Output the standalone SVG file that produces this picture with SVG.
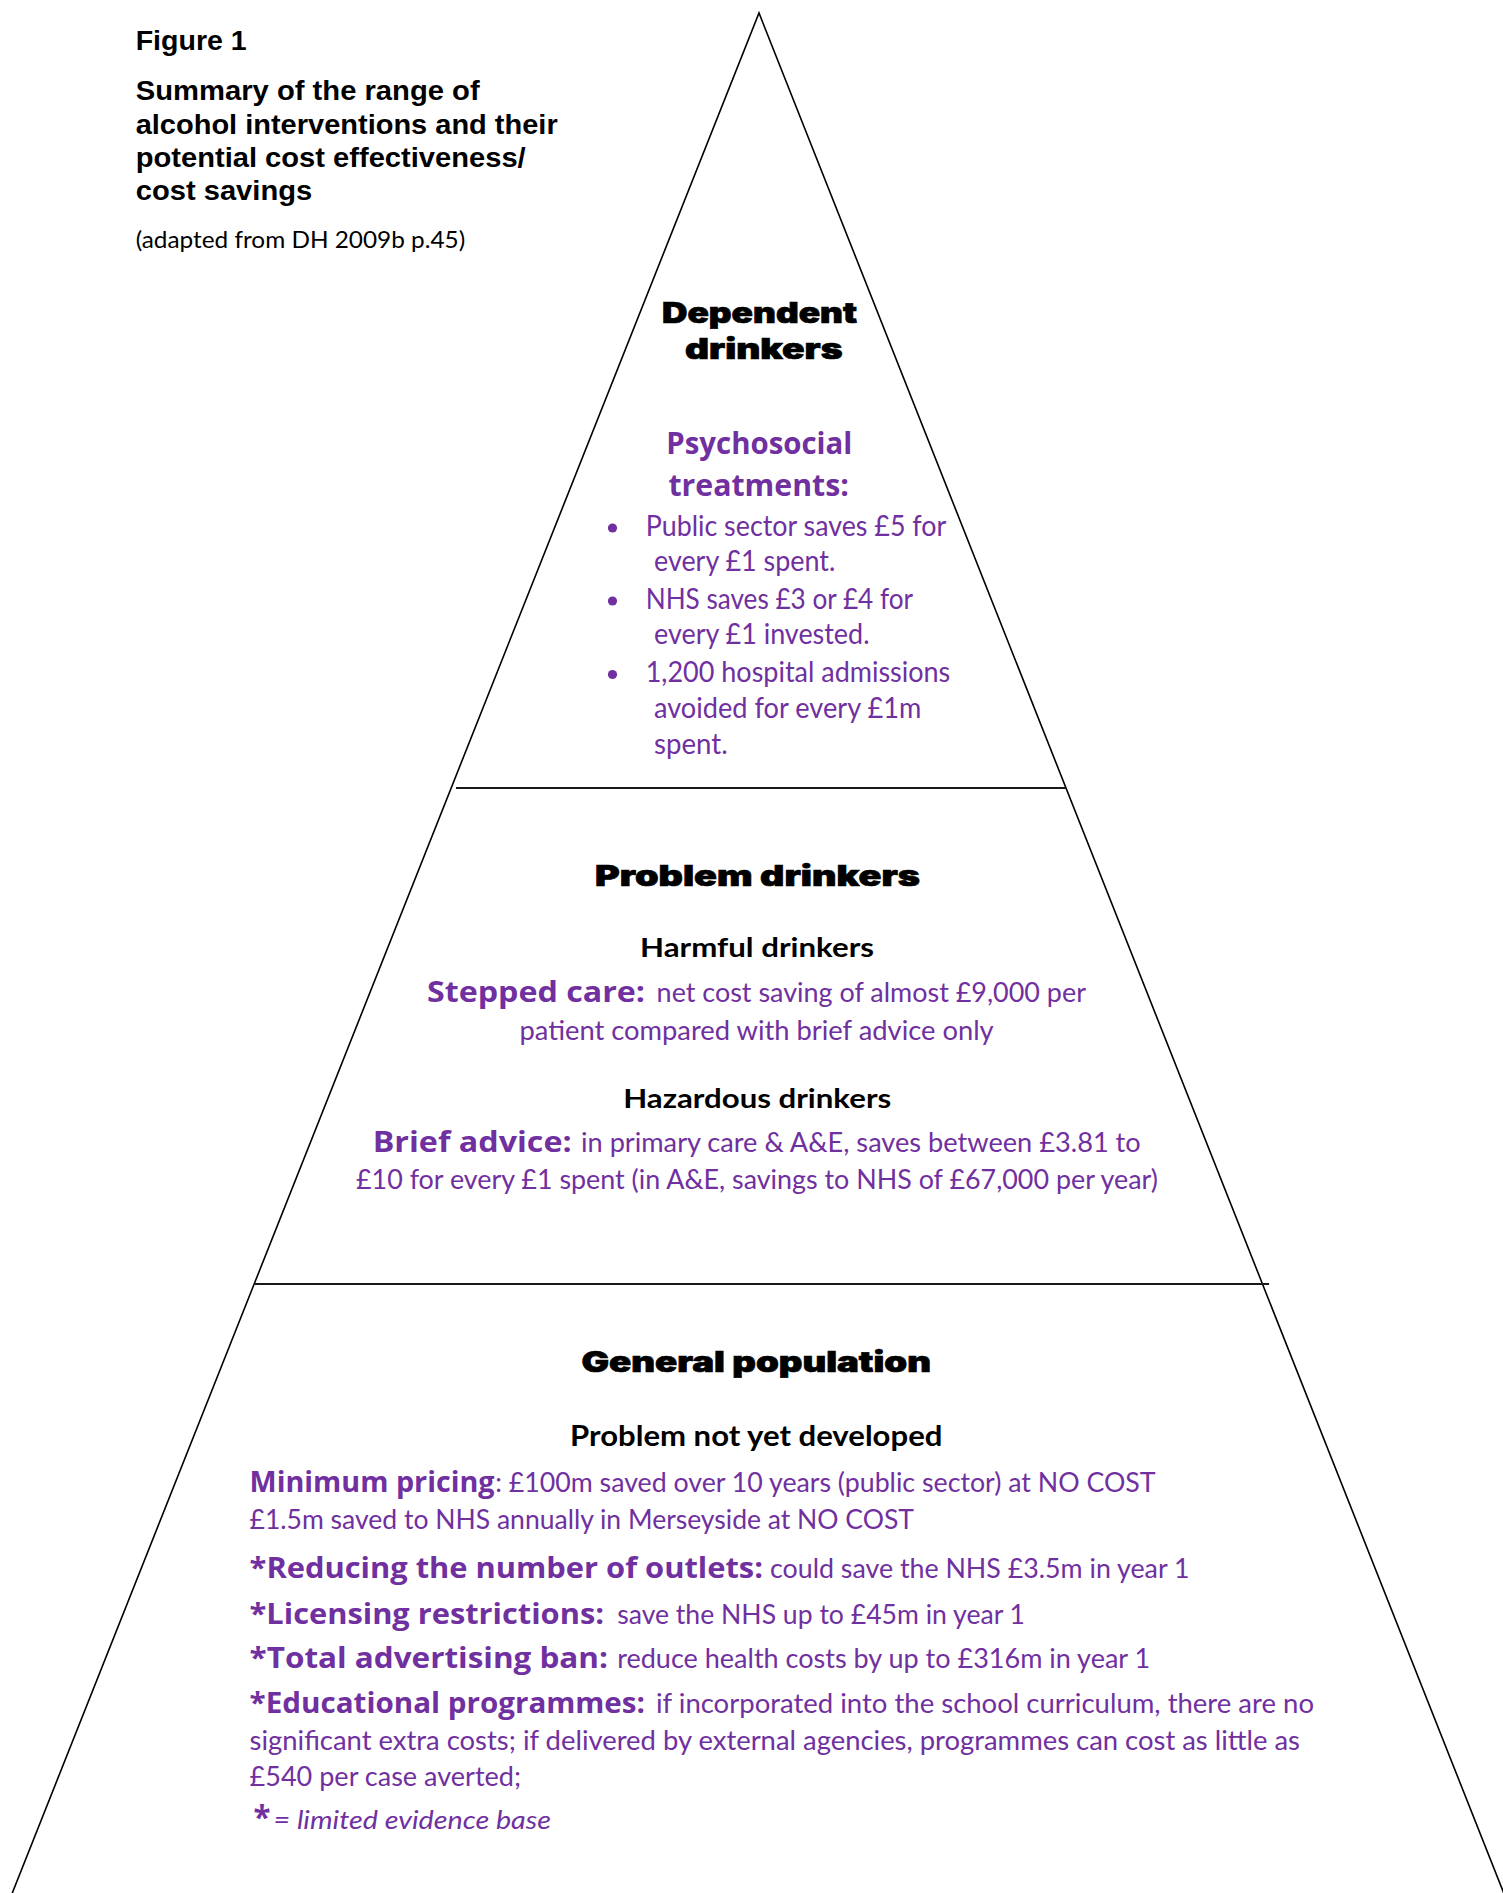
<svg xmlns="http://www.w3.org/2000/svg" width="1503" height="1893" viewBox="0 0 1503 1893">
  <style>
    .bg { fill: #ffffff; }
    .edge { fill: none; stroke: #000000; stroke-width: 1.6; stroke-linejoin: miter; }
    .divider { fill: none; stroke: #1a1a1a; stroke-width: 2.2; }
    .title { font-family: "Liberation Sans", Arial, sans-serif; font-weight: 700; font-size: 28.5px; fill: #000000; }
    .note { font-family: Lato, "Open Sans", sans-serif; font-size: 24px; fill: #000000; }
    .tier { font-family: Inter, Roboto, "Liberation Sans", sans-serif; font-weight: 900; font-size: 28px; fill: #000000; stroke: #000000; stroke-width: 0.7; text-anchor: start; }
    .sub { font-family: Lato, "Open Sans", sans-serif; font-weight: 700; font-size: 27px; fill: #000000; }
    .label { font-family: "Open Sans", "Noto Sans", sans-serif; font-weight: 700; font-size: 28px; fill: #7030A0; }
    .body { font-family: Lato, "Open Sans", sans-serif; font-size: 26px; fill: #7030A0; }
    .body-lg { font-family: Lato, "Open Sans", sans-serif; font-size: 28px; fill: #7030A0; }
    .dot { fill: #7030A0; }
    .key { font-family: Lato, "Open Sans", sans-serif; font-style: italic; font-size: 26px; fill: #7030A0; }
  </style>

  <rect class="bg" x="0" y="0" width="1503" height="1893"/>

  <!-- Heading block, top left -->
  <g id="title">
    <text class="title" x="135.7" y="50" textLength="111" lengthAdjust="spacingAndGlyphs">Figure 1</text>
    <text class="title" x="135.7" y="100" textLength="344" lengthAdjust="spacingAndGlyphs">Summary of the range of</text>
    <text class="title" x="135.7" y="133.5" textLength="422" lengthAdjust="spacingAndGlyphs">alcohol interventions and their</text>
    <text class="title" x="135.7" y="167" textLength="390" lengthAdjust="spacingAndGlyphs">potential cost effectiveness/</text>
    <text class="title" x="135.7" y="200" textLength="176.5" lengthAdjust="spacingAndGlyphs">cost savings</text>
    <text class="note" x="135.7" y="248" textLength="329.5" lengthAdjust="spacingAndGlyphs">(adapted from DH 2009b p.45)</text>
  </g>

  <!-- Pyramid outline and tier dividers -->
  <g id="pyramid">
    <polyline class="edge" points="11.5,1895 759,13 1504.5,1895"/>
    <line class="divider" x1="456" y1="788" x2="1066" y2="788"/>
    <line class="divider" x1="255" y1="1284" x2="1269" y2="1284"/>
  </g>

  <!-- Top tier -->
  <g id="tier-dependent">
    <text class="tier" x="662" y="323" textLength="195" lengthAdjust="spacingAndGlyphs">Dependent</text>
    <text class="tier" x="685" y="358.5" textLength="157.6" lengthAdjust="spacingAndGlyphs">drinkers</text>
    <text class="label" style="font-size:30px" x="666.3" y="453.5" textLength="186" lengthAdjust="spacingAndGlyphs">Psychosocial</text>
    <text class="label" style="font-size:30px" x="668.4" y="496" textLength="180.5" lengthAdjust="spacingAndGlyphs">treatments:</text>
    <circle class="dot" cx="612.5" cy="528" r="4.6"/>
    <circle class="dot" cx="612.5" cy="601" r="4.6"/>
    <circle class="dot" cx="612.5" cy="674.5" r="4.6"/>
    <text class="body-lg" x="645.7" y="536" textLength="300.6" lengthAdjust="spacingAndGlyphs">Public sector saves £5 for</text>
    <text class="body-lg" x="654" y="571" textLength="181.3" lengthAdjust="spacingAndGlyphs">every £1 spent.</text>
    <text class="body-lg" x="645.7" y="609" textLength="267.3" lengthAdjust="spacingAndGlyphs">NHS saves £3 or £4 for</text>
    <text class="body-lg" x="654" y="644" textLength="215.5" lengthAdjust="spacingAndGlyphs">every £1 invested.</text>
    <text class="body-lg" x="645.7" y="682" textLength="304.6" lengthAdjust="spacingAndGlyphs">1,200 hospital admissions</text>
    <text class="body-lg" x="654" y="717.5" textLength="267.3" lengthAdjust="spacingAndGlyphs">avoided for every £1m</text>
    <text class="body-lg" x="654" y="754" textLength="73.7" lengthAdjust="spacingAndGlyphs">spent.</text>
  </g>

  <!-- Middle tier -->
  <g id="tier-problem">
    <text class="tier" x="595" y="885.5" textLength="325" lengthAdjust="spacingAndGlyphs">Problem drinkers</text>
    <text class="sub" x="640" y="957" textLength="234" lengthAdjust="spacingAndGlyphs">Harmful drinkers</text>
    <text class="label" x="427" y="1002" textLength="218" lengthAdjust="spacingAndGlyphs">Stepped care:</text>
    <text class="body" x="656.6" y="1002" textLength="429.4" lengthAdjust="spacingAndGlyphs">net cost saving of almost £9,000 per</text>
    <text class="body" x="519.5" y="1039.5" textLength="474.2" lengthAdjust="spacingAndGlyphs">patient compared with brief advice only</text>
    <text class="sub" x="623.2" y="1108" textLength="268" lengthAdjust="spacingAndGlyphs">Hazardous drinkers</text>
    <text class="label" x="372.7" y="1152" textLength="199" lengthAdjust="spacingAndGlyphs">Brief advice:</text>
    <text class="body" x="581" y="1152" textLength="559.7" lengthAdjust="spacingAndGlyphs">in primary care &amp; A&amp;E, saves between £3.81 to</text>
    <text class="body" x="356" y="1188.5" textLength="802" lengthAdjust="spacingAndGlyphs">£10 for every £1 spent (in A&amp;E, savings to NHS of £67,000 per year)</text>
  </g>

  <!-- Base tier -->
  <g id="tier-general">
    <text class="tier" x="581.5" y="1371.5" textLength="349.5" lengthAdjust="spacingAndGlyphs">General population</text>
    <text class="sub" style="font-size:28px" x="570" y="1445.5" textLength="372.4" lengthAdjust="spacingAndGlyphs">Problem not yet developed</text>

    <text class="label" x="249.6" y="1492" textLength="245" lengthAdjust="spacingAndGlyphs">Minimum pricing</text>
    <text class="body" x="495.2" y="1492" textLength="660.4" lengthAdjust="spacingAndGlyphs">: £100m saved over 10 years (public sector) at NO COST</text>
    <text class="body" x="249.6" y="1529" textLength="664.4" lengthAdjust="spacingAndGlyphs">£1.5m saved to NHS annually in Merseyside at NO COST</text>

    <text class="label" x="249.6" y="1577.5" textLength="513.4" lengthAdjust="spacingAndGlyphs">*Reducing the number of outlets:</text>
    <text class="body" x="770" y="1577.5" textLength="419.5" lengthAdjust="spacingAndGlyphs">could save the NHS £3.5m in year 1</text>

    <text class="label" x="249.6" y="1623.5" textLength="354.4" lengthAdjust="spacingAndGlyphs">*Licensing restrictions:</text>
    <text class="body" x="617.2" y="1623.5" textLength="407.8" lengthAdjust="spacingAndGlyphs">save the NHS up to £45m in year 1</text>

    <text class="label" x="249.6" y="1668" textLength="358.4" lengthAdjust="spacingAndGlyphs">*Total advertising ban:</text>
    <text class="body" x="617.2" y="1668" textLength="533" lengthAdjust="spacingAndGlyphs">reduce health costs by up to £316m in year 1</text>

    <text class="label" x="249.6" y="1713" textLength="395.4" lengthAdjust="spacingAndGlyphs">*Educational programmes:</text>
    <text class="body" x="656" y="1713" textLength="658" lengthAdjust="spacingAndGlyphs">if incorporated into the school curriculum, there are no</text>
    <text class="body" x="249.6" y="1749.5" textLength="1050.4" lengthAdjust="spacingAndGlyphs">significant extra costs; if delivered by external agencies, programmes can cost as little as</text>
    <text class="body" x="249.6" y="1786" textLength="271.4" lengthAdjust="spacingAndGlyphs">£540 per case averted;</text>

    <text class="label" style="font-size:32px" x="253.5" y="1829" textLength="17" lengthAdjust="spacingAndGlyphs">*</text>
    <text class="key" x="273.5" y="1828.5" textLength="277.5" lengthAdjust="spacingAndGlyphs">= limited evidence base</text>
  </g>
</svg>
